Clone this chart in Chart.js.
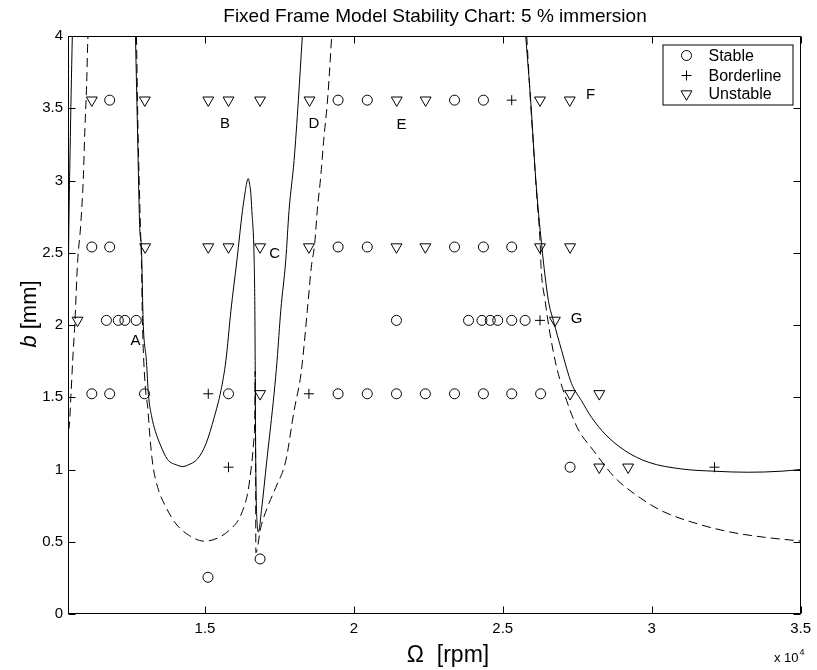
<!DOCTYPE html>
<html><head><meta charset="utf-8">
<script src="https://cdn.jsdelivr.net/npm/chart.js@4.4.0/dist/chart.umd.min.js"></script>
<style>html,body{margin:0;padding:0;background:#fff;}#wrap{width:817px;height:670px;}</style>
</head><body><div id="wrap"><canvas id="c" width="817" height="670"></canvas></div>
<script>
// ---- tick values ----
const xTicks = [15000, 20000, 25000, 30000, 35000];
const yTicks = [0, 0.5, 1, 1.5, 2, 2.5, 3, 3.5, 4];

// ---- measured points [rpm, b mm] ----
const stable = [
 [11800,3.556],[19470,3.556],[20450,3.556],[23380,3.556],[24350,3.556],
 [11200,2.54],[11800,2.54],[19470,2.54],[20450,2.54],[23380,2.54],[24350,2.54],[25300,2.54],
 [11690,2.032],[12090,2.032],[12310,2.032],[12690,2.032],[21430,2.032],[23850,2.032],[24300,2.032],[24580,2.032],[24830,2.032],[25300,2.032],[25750,2.032],
 [11200,1.524],[11800,1.524],[12970,1.524],[15790,1.524],[19470,1.524],[20450,1.524],[21430,1.524],[22400,1.524],[23380,1.524],[24350,1.524],[25300,1.524],[26270,1.524],
 [27260,1.016],
 [15100,0.254],[16850,0.381]
];
const borderline = [[25300,3.556],[26250,2.032],[15110,1.524],[18490,1.524],[15790,1.016],[32110,1.016]];
const unstable = [
 [11200,3.556],[12980,3.556],[15110,3.556],[15790,3.556],[16850,3.556],[18510,3.556],[21440,3.556],[22410,3.556],[26250,3.556],[27250,3.556],
 [12990,2.54],[15110,2.54],[15790,2.54],[16850,2.54],[18490,2.54],[21430,2.54],[22400,2.54],[26250,2.54],[27260,2.54],
 [10720,2.032],[26750,2.032],
 [16850,1.524],[27260,1.524],[28240,1.524],
 [28240,1.016],[29210,1.016]
];

// ---- stability boundaries ----
const solidA = [[10405,2.2],[10430,2.7],[10470,3.2],[10505,3.6],[10545,4.0]];
const solidB = [[12666,4.0],[12733,3.36],[12810,2.668],[12867,2.53],[12924,2.025],[13034,1.748],[13101,1.519],[13202,1.374],[13336,1.263],[13503,1.17],[13740,1.07],[14072,1.03],[14250,1.02],[14417,1.03],[14752,1.074],[15033,1.178],[15311,1.362],[15536,1.547],[15703,1.755],[15871,2.1],[16072,2.448],[16259,2.793],[16340,2.908],[16383,2.965],[16450,3.013],[16507,2.965],[16540,2.908],[16574,2.793],[16651,2.448],[16675,2.1],[16685,1.755],[16701,1.131],[16762,0.601],[16795,0.567],[16896,0.716],[17076,1.062],[17321,1.526],[17421,1.755],[17545,2.1],[17713,2.448],[17823,2.793],[17991,3.138],[18135,3.554],[18269,4.0]];
const solidC = [[25770,4.0],[25938,3.55],[26105,3.015],[26306,2.552],[26531,2.17],[26698,2.031],[26976,1.824],[27311,1.594],[27636,1.478],[27981,1.361],[28429,1.246],[29099,1.131],[29880,1.051],[30995,1.004],[32113,0.988],[33229,0.981],[34344,0.988],[35000,1.0]];
const dashA = [[10420,1.3],[10432,1.285],[10499,1.514],[10556,1.748],[10633,2.025],[10723,2.44],[10823,2.682],[10914,3.015],[10968,3.36],[11025,3.66],[11058,3.925],[11070,4.0]];
const dashB = [[12699,4.0],[12750,3.36],[12833,2.668],[12867,2.44],[12900,2.025],[12977,1.626],[13091,1.398],[13135,1.267],[13245,1.038],[13413,0.876],[13694,0.738],[14029,0.623],[14474,0.543],[14977,0.504],[15479,0.531],[15924,0.6],[16149,0.66],[16316,0.745],[16427,0.83],[16541,0.991],[16628,1.176],[16675,1.406],[16685,1.68],[16701,1.06],[16708,0.424],[16875,0.6],[17096,0.738],[17378,0.876],[17713,1.06],[17991,1.406],[18235,1.68],[18436,2.1],[18570,2.4],[18684,2.563],[18771,2.793],[18885,3.024],[18995,3.3],[19106,3.533],[19220,3.88],[19253,4.0]];
const dashC = [[25804,4.0],[25918,3.592],[26028,3.245],[26139,2.9],[26253,2.576],[26286,2.4],[26420,2.17],[26588,1.938],[26809,1.707],[27143,1.478],[27500,1.29],[28050,1.13],[28764,0.944],[29434,0.83],[30325,0.715],[31554,0.623],[32669,0.566],[33788,0.531],[35000,0.505]];

// ---- point annotations ----
const tags = [['A',12666,1.888],['B',15670,3.392],['C',17340,2.494],['D',18660,3.392],['E',21597,3.388],['F',27948,3.595],['G',27475,2.043]];
const legendNames = ['Stable','Borderline','Unstable'];

const FONT = '"Liberation Sans", Arial, Helvetica, sans-serif';
const toXY = a => a.map(p => ({x:p[0], y:p[1]}));

function lineDS(d, dashed){
  return {data: toXY(d), showLine:true, borderColor:'#000', borderWidth:1, pointRadius:0,
          cubicInterpolationMode:'monotone', borderDash: dashed ? [9,5] : [], fill:false};
}
function markDS(d, style, r, rot){
  return {data: toXY(d), showLine:false, pointStyle:style, pointRadius:r, pointRotation:rot||0,
          borderColor:'#000', borderWidth:1, backgroundColor:'rgba(0,0,0,0)', pointHoverRadius:r};
}

const decor = {
  id:'decor',
  afterDraw(chart){
    const {ctx, chartArea:a, scales:{x, y}} = chart;
    ctx.save();
    ctx.strokeStyle = '#000'; ctx.fillStyle = '#000'; ctx.lineWidth = 1;
    const L = Math.round(a.left)+0.5, R = Math.round(a.right)-0.5, T = Math.round(a.top)+0.5, B = Math.round(a.bottom)-0.5;
    ctx.strokeRect(L, T, R-L, B-T);
    const tl = 7;
    ctx.beginPath();
    xTicks.forEach(v => { const px = Math.round(x.getPixelForValue(v))+0.5; ctx.moveTo(px,B); ctx.lineTo(px,B-tl); ctx.moveTo(px,T); ctx.lineTo(px,T+tl); });
    yTicks.forEach(v => { const py = Math.round(y.getPixelForValue(v))+0.5; ctx.moveTo(L,py); ctx.lineTo(L+tl,py); ctx.moveTo(R,py); ctx.lineTo(R-tl,py); });
    ctx.stroke();

    // letter tags
    ctx.font = '15px ' + FONT; ctx.textAlign = 'center'; ctx.textBaseline = 'middle';
    tags.forEach(t => ctx.fillText(t[0], x.getPixelForValue(t[1]), y.getPixelForValue(t[2])));

    // legend
    const lx0 = R - 8, lx = lx0 - 130, ly = T + 8, lw = 130, lh = 60;
    ctx.fillStyle = '#fff'; ctx.fillRect(lx, ly, lw, lh);
    ctx.strokeRect(lx+0.5, ly+0.5, lw, lh);
    ctx.fillStyle = '#000';
    const rows = [ly+11, ly+31, ly+49.5];
    const mx = lx + 24;
    ctx.beginPath(); ctx.arc(mx, rows[0], 5, 0, Math.PI*2); ctx.stroke();
    ctx.beginPath(); ctx.moveTo(mx-5, rows[1]); ctx.lineTo(mx+5, rows[1]); ctx.moveTo(mx, rows[1]-5); ctx.lineTo(mx, rows[1]+5); ctx.stroke();
    const r = 6.3;
    ctx.beginPath(); ctx.moveTo(mx, rows[2]+r); ctx.lineTo(mx - r*0.866, rows[2]-r/2); ctx.lineTo(mx + r*0.866, rows[2]-r/2); ctx.closePath(); ctx.stroke();
    ctx.font = '16px ' + FONT; ctx.textAlign = 'left'; ctx.textBaseline = 'middle';
    legendNames.forEach((n,i) => ctx.fillText(n, lx + 46, rows[i]+1));

    // title
    ctx.font = '19px ' + FONT; ctx.textAlign = 'center'; ctx.textBaseline = 'alphabetic';
    ctx.fillText('Fixed Frame Model Stability Chart: 5 % immersion', 435, 22);

    // x axis title
    ctx.font = '23px ' + FONT;
    ctx.fillText('\u03A9  [rpm]', 448, 662);

    // y axis title
    ctx.save();
    ctx.translate(36, 314); ctx.rotate(-Math.PI/2);
    ctx.textAlign = 'left';
    ctx.font = 'italic 22px ' + FONT; const wb = ctx.measureText('b').width;
    ctx.font = '22px ' + FONT; const wr = ctx.measureText(' [mm]').width;
    const sx = -(wb+wr)/2;
    ctx.font = 'italic 22px ' + FONT; ctx.fillText('b', sx, 0);
    ctx.font = '22px ' + FONT; ctx.fillText(' [mm]', sx+wb, 0);
    ctx.restore();

    // exponent
    ctx.textAlign = 'left';
    ctx.font = '13px ' + FONT; ctx.fillText('x 10', 774, 662);
    const w10 = ctx.measureText('x 10').width;
    ctx.font = '9px ' + FONT; ctx.fillText('4', 774 + w10 + 1, 655);
    ctx.restore();
  }
};

new Chart(document.getElementById('c'), {
  type:'scatter',
  data:{ datasets:[
    lineDS(solidA,false), lineDS(solidB,false), lineDS(solidC,false),
    lineDS(dashA,true), lineDS(dashB,true), lineDS(dashC,true),
    markDS(stable,'circle',5), markDS(borderline,'cross',5), markDS(unstable,'triangle',6.3,180)
  ]},
  options:{
    responsive:false, animation:false, devicePixelRatio:1,
    layout:{padding:{left:0, right:15, top:36, bottom:0}},
    plugins:{legend:{display:false}, tooltip:{enabled:false}, title:{display:false}},
    events:[],
    scales:{
      x:{type:'linear', min:10400, max:35000,
         grid:{display:false, drawTicks:false}, border:{display:false},
         afterBuildTicks:s => { s.ticks = xTicks.map(v => ({value:v})); },
         afterFit:s => { s.height = 56; },
         ticks:{padding:6, color:'#000', font:{family:FONT, size:15}, maxRotation:0, autoSkip:false,
                callback:v => String(v/10000)}},
      y:{type:'linear', min:0, max:4,
         grid:{display:false, drawTicks:false}, border:{display:false},
         afterBuildTicks:s => { s.ticks = yTicks.map(v => ({value:v})); },
         afterFit:s => { s.width = 68; },
         ticks:{padding:5, color:'#000', font:{family:FONT, size:15}, autoSkip:false,
                callback:v => String(v)}}
    }
  },
  plugins:[decor]
});
</script></body></html>
